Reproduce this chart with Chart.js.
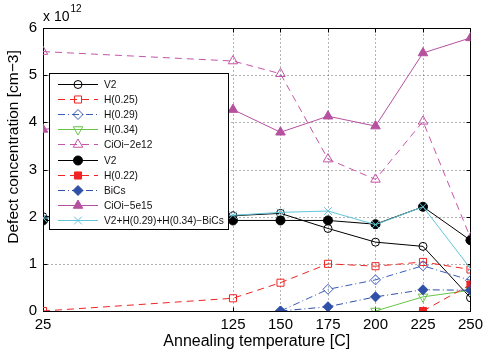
<!DOCTYPE html>
<html>
<head>
<meta charset="utf-8">
<script src="https://cdn.jsdelivr.net/npm/chart.js@4/dist/chart.umd.min.js"></script>
<style>
  html, body { margin: 0; padding: 0; background: #fff; }
  #wrap { width: 488px; height: 353px; }
</style>
</head>
<body>
<div id="wrap"><canvas id="defects" width="488" height="353"></canvas></div>
<script>
// annealing temperatures (C)
const temps = [25, 125, 150, 175, 200, 225, 250];
const xTicks = [25, 125, 150, 175, 200, 225, 250];
const yTicks = [0, 1, 2, 3, 4, 5, 6];

// defect concentrations, units of 1e12 cm^-3 (null = not measured)
const v2Open    = [2.0, 2.02, 2.07, 1.75, 1.46, 1.37, 0.28];
const h025      = [0, 0.27, 0.6, 1.0, 0.95, 1.04, 0.88];
const h029      = [null, null, 0, 0.46, 0.66, 0.96, 0.65];
const h034      = [null, null, null, null, 0, 0.3, 0.44];
const cioi2e12  = [5.5, 5.3, 5.03, 3.22, 2.79, 4.02, 1.55];
const v2Filled  = [1.92, 1.92, 1.92, 1.92, 1.84, 2.21, 1.5];
const h022      = [null, null, null, null, null, 0, 0.56];
const bics      = [null, null, 0, 0.09, 0.3, 0.45, 0.44];
const cioi5e15  = [3.85, 4.27, 3.79, 4.13, 3.92, 5.47, 5.79];
const combo     = [1.97, 2.03, 2.09, 2.12, 1.83, 2.21, 0.9];

const toPts = vals => temps.map((t, i) => ({x: t, y: vals[i]})).filter(p => p.y !== null);

const FONT = '"Liberation Sans", Arial, Helvetica, sans-serif';
const NONE = 'rgba(0,0,0,0)';

// name, values, colour, marker, filled, dash, radius, rotation
const series = [
    ['V2', v2Open, '#000000', 'circle', false, [], 4, 0],
    ['H(0.25)', h025, '#f02424', 'rect', false, [7, 5], 5, 0],
    ['H(0.29)', h029, '#3a5cb8', 'rectRot', false, [7, 3, 1, 3], 5, 0],
    ['H(0.34)', h034, '#66c447', 'triangle', false, [], 5.5, 180],
    ['CiOi−2e12', cioi2e12, '#c455a8', 'triangle', false, [7, 5], 5.5, 0],
    ['V2', v2Filled, '#000000', 'circle', true, [], 4.5, 0],
    ['H(0.22)', h022, '#f02424', 'rect', true, [7, 5], 5, 0],
    ['BiCs', bics, '#2f4fa8', 'rectRot', true, [7, 3, 1, 3], 5, 0],
    ['CiOi−5e15', cioi5e15, '#b6519f', 'triangle', true, [], 5.5, 0],
    ['V2+H(0.29)+H(0.34)−BiCs', combo, '#62c6da', 'crossRot', false, [], 5.5, 0]
];

const datasets = series.map((s, i) => ({
    label: s[0],
    data: toPts(s[1]),
    borderColor: s[2],
    backgroundColor: s[4] ? s[2] : NONE,
    pointStyle: s[3],
    pointRadius: s[6],
    pointRotation: s[7],
    pointBorderColor: s[2],
    pointBackgroundColor: s[4] ? s[2] : NONE,
    pointBorderWidth: 1,
    borderWidth: 1,
    borderDash: s[5],
    fill: false,
    tension: 0,
    order: series.length - i
}));

function drawMarker(ctx, s, x, y) {
    ctx.save();
    ctx.setLineDash([]);
    ctx.strokeStyle = s[2];
    ctx.fillStyle = s[4] ? s[2] : NONE;
    ctx.lineWidth = 1;
    Chart.helpers.drawPoint(ctx, {pointStyle: s[3], rotation: s[7], radius: s[6], borderWidth: 1}, x, y);
    ctx.restore();
}

// MATLAB-ish dotted grid, box, inward ticks, y label, exponent and legend
const matlabFrame = {
    id: 'matlabFrame',
    beforeDatasetsDraw(chart) {
        const {ctx, chartArea: a, scales: {x, y}} = chart;
        const L = Math.round(a.left) + 0.5, R = Math.round(a.right) + 0.5;
        const T = Math.round(a.top) + 0.5, B = Math.round(a.bottom) + 0.5;
        ctx.save();
        // dotted grid
        ctx.strokeStyle = '#666';
        ctx.lineWidth = 1;
        ctx.setLineDash([1, 3]);
        ctx.beginPath();
        xTicks.slice(1, -1).forEach(t => {
            const px = Math.round(x.getPixelForValue(t)) + 0.5;
            ctx.moveTo(px, B); ctx.lineTo(px, T);
        });
        yTicks.slice(1, -1).forEach(v => {
            const py = Math.round(y.getPixelForValue(v)) + 0.5;
            ctx.moveTo(L, py); ctx.lineTo(R, py);
        });
        ctx.stroke();
        // box + ticks
        ctx.setLineDash([]);
        ctx.strokeStyle = '#000';
        ctx.strokeRect(L, T, R - L, B - T);
        ctx.beginPath();
        xTicks.forEach(t => {
            const px = Math.round(x.getPixelForValue(t)) + 0.5;
            ctx.moveTo(px, B); ctx.lineTo(px, B - 4);
            ctx.moveTo(px, T); ctx.lineTo(px, T + 4);
        });
        yTicks.forEach(v => {
            const py = Math.round(y.getPixelForValue(v)) + 0.5;
            ctx.moveTo(L, py); ctx.lineTo(L + 4, py);
            ctx.moveTo(R, py); ctx.lineTo(R - 4, py);
        });
        ctx.stroke();
        // exponent
        ctx.fillStyle = '#000';
        ctx.textBaseline = 'alphabetic';
        ctx.textAlign = 'left';
        ctx.font = '14px ' + FONT;
        ctx.fillText('x 10', a.left, 21);
        const w = ctx.measureText('x 10').width;
        ctx.font = '10px ' + FONT;
        ctx.fillText('12', a.left + w + 1, 12);
        // y label
        ctx.translate(14, 147);
        ctx.rotate(-Math.PI / 2);
        ctx.font = '15.5px ' + FONT;
        ctx.textAlign = 'center';
        ctx.textBaseline = 'middle';
        ctx.fillText('Defect concentration [cm−3]', 0, 0);
        ctx.restore();
    },
    afterDraw(chart) {
        const {ctx} = chart;
        const bx = 49.5, by = 73.5, bw = 179, bh = 156, step = 15.1;
        ctx.save();
        ctx.fillStyle = '#fff';
        ctx.fillRect(bx, by, bw, bh);
        ctx.strokeStyle = '#000';
        ctx.lineWidth = 1;
        ctx.strokeRect(bx, by, bw, bh);
        ctx.font = '10.2px ' + FONT;
        ctx.textBaseline = 'middle';
        series.forEach((s, i) => {
            const cy = Math.round(84 + i * step) + 0.5;
            ctx.save();
            ctx.strokeStyle = s[2];
            ctx.lineWidth = 1;
            ctx.setLineDash(s[5]);
            ctx.beginPath();
            ctx.moveTo(58, cy); ctx.lineTo(98, cy);
            ctx.stroke();
            ctx.restore();
            drawMarker(ctx, s, 78, cy);
            ctx.fillStyle = '#111';
            ctx.fillText(s[0], 104, cy + 1);
        });
        ctx.restore();
    }
};

new Chart(document.getElementById('defects').getContext('2d'), {
    type: 'line',
    data: {datasets},
    options: {
        responsive: false,
        animation: false,
        events: [],
        layout: {padding: {left: 0, right: 13, top: 28, bottom: 0}},
        plugins: {
            legend: {display: false},
            tooltip: {enabled: false}
        },
        scales: {
            x: {
                type: 'linear',
                min: 25,
                max: 250,
                afterBuildTicks: s => { s.ticks = xTicks.map(v => ({value: v})); },
                afterFit: s => { s.height = 42; },
                grid: {display: false, drawTicks: false},
                border: {display: false},
                ticks: {color: '#000', font: {family: FONT, size: 15}, padding: 5, maxRotation: 0, autoSkip: false},
                title: {display: true, text: 'Annealing temperature [C]', color: '#000',
                        font: {family: FONT, size: 16}, padding: {top: 0, bottom: 2}}
            },
            y: {
                min: 0,
                max: 6,
                afterBuildTicks: s => { s.ticks = yTicks.map(v => ({value: v})); },
                afterFit: s => { s.width = 43; },
                grid: {display: false, drawTicks: false},
                border: {display: false},
                ticks: {color: '#000', font: {family: FONT, size: 15}, padding: 6}
            }
        }
    },
    plugins: [matlabFrame]
});
</script>
</body>
</html>
